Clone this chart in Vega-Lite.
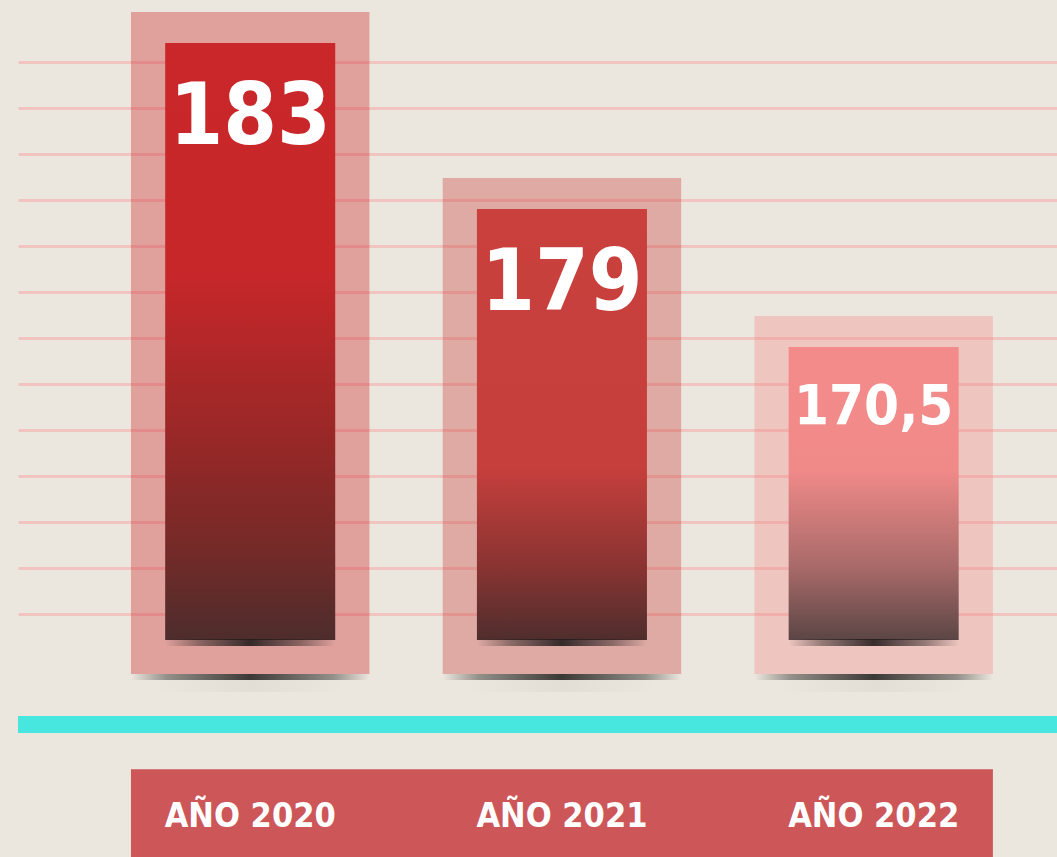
{
  "$schema": "https://vega.github.io/schema/vega-lite/v6.json",
  "autosize": {"type": "none"},
  "width": 1039,
  "height": 857,
  "padding": {"left": 18, "right": 0, "top": 0, "bottom": 0},
  "background": "#ece7de",
  "config": {
    "view": {"stroke": null},
    "locale": {"number": {"decimal": ",", "thousands": ".", "grouping": [3], "currency": ["", " €"]}}
  },
  "data": {"values": [
    {"anio": "AÑO 2020", "valor": 183},
    {"anio": "AÑO 2021", "valor": 179},
    {"anio": "AÑO 2022", "valor": 170.5}
  ]},
  "encoding": {
    "x": {"field": "anio", "type": "nominal", "sort": null,
          "scale": {"type": "band", "paddingInner": 0.235, "paddingOuter": 0.284, "align": 0.638},
          "axis": null}
  },
  "resolve": {"scale": {"y": "independent"}},
  "layer": [
    {
      "encoding": {
        "y": {"field": "valor", "type": "quantitative",
              "scale": {"domain": [0, 170.5, 179, 183], "range": [640, 347, 209, 43], "nice": false, "zero": false},
              "axis": null},
        "y2": {"datum": 0}
      },
      "layer": [
        {
          "mark": {"type": "bar", "opacity": 0.36, "yOffset": -31, "y2Offset": 34},
          "encoding": {
            "color": {"field": "anio", "type": "nominal",
                      "scale": {"range": ["#c9272a", "#c8403d", "#f28a89"]}, "legend": null}
          }
        },
        {
          "mark": {"type": "bar", "width": {"band": 1}, "yOffset": 34, "y2Offset": 40, "cornerRadius": 3,
                   "fill": {"gradient": "linear", "x1": 0, "y1": 0, "x2": 1, "y2": 0,
                            "stops": [
                              {"offset": 0, "color": "rgba(40,38,36,0)"},
                              {"offset": 0.15, "color": "rgba(40,38,36,0.45)"},
                              {"offset": 0.5, "color": "rgba(40,38,36,0.9)"},
                              {"offset": 0.85, "color": "rgba(40,38,36,0.45)"},
                              {"offset": 1, "color": "rgba(40,38,36,0)"}
                            ]}},
          "encoding": {"y": {"datum": 0}, "y2": {"datum": 0}}
        },
        {
          "mark": {"type": "bar", "width": {"band": 0.8}, "yOffset": 38, "y2Offset": 52, "cornerRadius": 7,
                   "fill": {"gradient": "linear", "x1": 0, "y1": 0, "x2": 1, "y2": 0,
                            "stops": [
                              {"offset": 0, "color": "rgba(60,55,50,0)"},
                              {"offset": 0.5, "color": "rgba(60,55,50,0.05)"},
                              {"offset": 1, "color": "rgba(60,55,50,0)"}
                            ]}},
          "encoding": {"y": {"datum": 0}, "y2": {"datum": 0}}
        },
        {
          "transform": [{"filter": "datum.anio === 'AÑO 2020'"}],
          "mark": {"type": "bar", "width": {"band": 0.713},
                   "fill": {"gradient": "linear", "x1": 0, "y1": 0, "x2": 0, "y2": 1,
                            "stops": [
                              {"offset": 0, "color": "#c9272a"},
                              {"offset": 0.38, "color": "#c8272a"},
                              {"offset": 0.68, "color": "#952827"},
                              {"offset": 0.85, "color": "#742a28"},
                              {"offset": 1, "color": "#4d2d2c"}
                            ]}}
        },
        {
          "transform": [{"filter": "datum.anio === 'AÑO 2021'"}],
          "mark": {"type": "bar", "width": {"band": 0.713},
                   "fill": {"gradient": "linear", "x1": 0, "y1": 0, "x2": 0, "y2": 1,
                            "stops": [
                              {"offset": 0, "color": "#c9403d"},
                              {"offset": 0.6, "color": "#c63f3c"},
                              {"offset": 0.82, "color": "#8c3432"},
                              {"offset": 1, "color": "#4f2e2d"}
                            ]}}
        },
        {
          "transform": [{"filter": "datum.anio === 'AÑO 2022'"}],
          "mark": {"type": "bar", "width": {"band": 0.713},
                   "fill": {"gradient": "linear", "x1": 0, "y1": 0, "x2": 0, "y2": 1,
                            "stops": [
                              {"offset": 0, "color": "#f38b8a"},
                              {"offset": 0.42, "color": "#f08a89"},
                              {"offset": 0.75, "color": "#a86a69"},
                              {"offset": 1, "color": "#5b4645"}
                            ]}}
        },
        {
          "mark": {"type": "bar", "width": {"band": 0.713}, "yOffset": -1, "y2Offset": 6, "cornerRadius": 3,
                   "fill": {"gradient": "linear", "x1": 0, "y1": 0, "x2": 1, "y2": 0,
                            "stops": [
                              {"offset": 0, "color": "rgba(35,28,28,0)"},
                              {"offset": 0.2, "color": "rgba(35,28,28,0.45)"},
                              {"offset": 0.5, "color": "rgba(35,28,28,0.9)"},
                              {"offset": 0.8, "color": "rgba(35,28,28,0.45)"},
                              {"offset": 1, "color": "rgba(35,28,28,0)"}
                            ]}},
          "encoding": {"y": {"datum": 0}, "y2": {"datum": 0}}
        },
        {
          "mark": {"type": "text", "baseline": "top", "align": "center", "dy": 33,
                   "font": "DejaVu Sans Condensed, sans-serif",
                   "fontWeight": "bold", "color": "#ffffff"},
          "encoding": {
            "y2": null,
            "text": {"field": "valor", "type": "quantitative", "format": ".1~f"},
            "size": {"condition": {"test": "datum.anio === 'AÑO 2022'", "value": 56}, "value": 86}
          }
        }
      ]
    },
    {
      "layer": [
        {
          "data": {"values": [{}]},
          "mark": {"type": "rule", "color": "#47e6de", "strokeWidth": 17},
          "encoding": {
            "x": null,
            "y": {"datum": -2.41, "type": "quantitative",
                  "scale": {"domain": [0, 12], "range": [613.7, 61.7], "nice": false, "zero": false},
                  "axis": {"grid": true, "gridColor": "#f5a8a8", "gridOpacity": 0.55, "gridWidth": 3,
                           "labels": false, "ticks": false, "domain": false, "title": null, "orient": "left",
                           "values": [0, 1, 2, 3, 4, 5, 6, 7, 8, 9, 10, 11, 12]}}
          }
        },
        {
          "data": {"values": [{}]},
          "mark": {"type": "rect", "color": "#cd5659"},
          "encoding": {
            "x": {"datum": "AÑO 2020", "type": "nominal", "bandPosition": 0},
            "x2": {"datum": "AÑO 2022", "bandPosition": 1},
            "y": {"datum": -3.38, "type": "quantitative",
                  "scale": {"domain": [0, 12], "range": [613.7, 61.7], "nice": false, "zero": false}},
            "y2": {"datum": -5.6}
          }
        },
        {
          "mark": {"type": "text", "baseline": "alphabetic", "align": "center",
                   "font": "DejaVu Sans Condensed, sans-serif",
                   "fontWeight": "bold", "fontSize": 34, "color": "#ffffff"},
          "encoding": {
            "y": {"datum": -4.63, "type": "quantitative",
                  "scale": {"domain": [0, 12], "range": [613.7, 61.7], "nice": false, "zero": false}},
            "text": {"field": "anio", "type": "nominal"}
          }
        }
      ]
    }
  ]
}
